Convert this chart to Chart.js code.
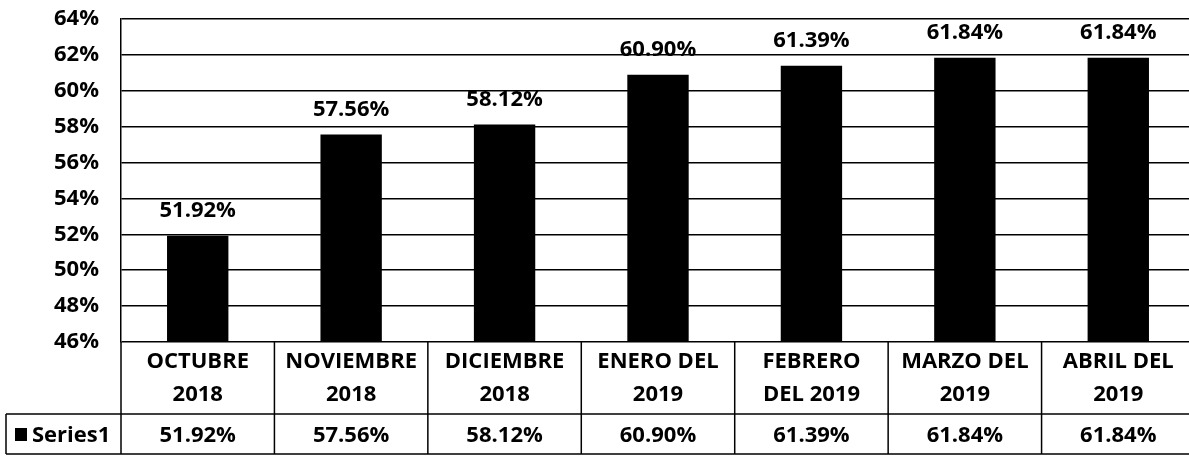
<!DOCTYPE html>
<html>
<head>
<meta charset="utf-8">
<script src="https://cdn.jsdelivr.net/npm/chart.js@4/dist/chart.umd.min.js"></script>
<style>
    html, body { margin: 0; padding: 0; background: #fff; overflow: hidden; }
    #wrap { position: relative; width: 1196px; height: 456px; }
</style>
</head>
<body>
<div id="wrap"><canvas id="chart" width="1196" height="456"></canvas></div>
<script>
// Datos
const CATEGORIES = [
    ['OCTUBRE', '2018'],
    ['NOVIEMBRE', '2018'],
    ['DICIEMBRE', '2018'],
    ['ENERO DEL', '2019'],
    ['FEBRERO', 'DEL 2019'],
    ['MARZO DEL', '2019'],
    ['ABRIL DEL', '2019']
];
const SERIES_NAME = 'Series1';
const SERIES1 = [51.92, 57.56, 58.12, 60.90, 61.39, 61.84, 61.84];
const Y_MIN = 46;
const Y_MAX = 64;
const Y_STEP = 2;

const FONT = '"Open Sans", "DejaVu Sans", sans-serif';
const fmt = v => v.toFixed(2) + '%';

// etiquetas encima de las barras
const barLabels = {
    id: 'barLabels',
    afterDatasetsDraw(chart) {
        const ctx = chart.ctx;
        const meta = chart.getDatasetMeta(0);
        ctx.save();
        ctx.font = `bold 22px ${FONT}`;
        ctx.fillStyle = '#000';
        ctx.textAlign = 'center';
        ctx.textBaseline = 'middle';
        meta.data.forEach((bar, i) => {
            ctx.fillText(fmt(SERIES1[i]), bar.x, bar.y - 25);
        });
        ctx.restore();
    }
};

// tabla de datos debajo del gráfico
const dataTable = {
    id: 'dataTable',
    afterDraw(chart) {
        const ctx = chart.ctx;
        const x = chart.scales.x;
        const area = chart.chartArea;
        const n = CATEGORIES.length;
        const colW = (area.right - area.left) / n;
        const top = area.bottom;
        const mid = top + 72;
        const bottom = top + 112;
        const leftEdge = 6;

        ctx.save();
        ctx.strokeStyle = '#000';
        ctx.lineWidth = 1.5;
        ctx.beginPath();
        ctx.moveTo(leftEdge, mid); ctx.lineTo(area.right, mid);
        ctx.moveTo(leftEdge, bottom); ctx.lineTo(area.right, bottom);
        ctx.moveTo(leftEdge, mid); ctx.lineTo(leftEdge, bottom);
        for (let i = 0; i <= n; i++) {
            const xx = area.left + i * colW;
            ctx.moveTo(xx, top); ctx.lineTo(xx, bottom);
        }
        ctx.stroke();

        ctx.font = `bold 22px ${FONT}`;
        ctx.fillStyle = '#000';
        ctx.textAlign = 'center';
        ctx.textBaseline = 'middle';
        CATEGORIES.forEach((lines, i) => {
            const cx = x.getPixelForValue(i);
            ctx.fillText(lines[0], cx, top + 20);
            ctx.fillText(lines[1], cx, top + 53);
            ctx.fillText(fmt(SERIES1[i]), cx, mid + 22);
        });

        // leyenda de la fila
        ctx.fillRect(15, mid + 14, 12, 13);
        ctx.textAlign = 'left';
        ctx.fillText(SERIES_NAME, 32, mid + 22);
        ctx.restore();
    }
};

new Chart(document.getElementById('chart'), {
    type: 'bar',
    data: {
        labels: CATEGORIES,
        datasets: [{
            label: SERIES_NAME,
            data: SERIES1,
            backgroundColor: '#000',
            borderWidth: 0,
            categoryPercentage: 1,
            barPercentage: 0.4
        }]
    },
    options: {
        responsive: false,
        animation: false,
        devicePixelRatio: 1,
        layout: { padding: { left: 0, right: 1, top: 19, bottom: 114 } },
        plugins: {
            legend: { display: false },
            tooltip: { enabled: false }
        },
        scales: {
            x: { display: false },
            y: {
                min: Y_MIN,
                max: Y_MAX,
                afterFit: s => {
                    s.width = 121;
                    s.paddingTop = 14;
                    s.paddingBottom = 14;
                },
                ticks: {
                    stepSize: Y_STEP,
                    padding: 22,
                    color: '#000',
                    font: { family: FONT, size: 22, weight: 'bold' },
                    callback: v => v + '%'
                },
                grid: { color: '#000', lineWidth: 1.5, drawTicks: false },
                border: { color: '#000', width: 1.5 }
            }
        }
    },
    plugins: [barLabels, dataTable]
});
</script>
</body>
</html>
